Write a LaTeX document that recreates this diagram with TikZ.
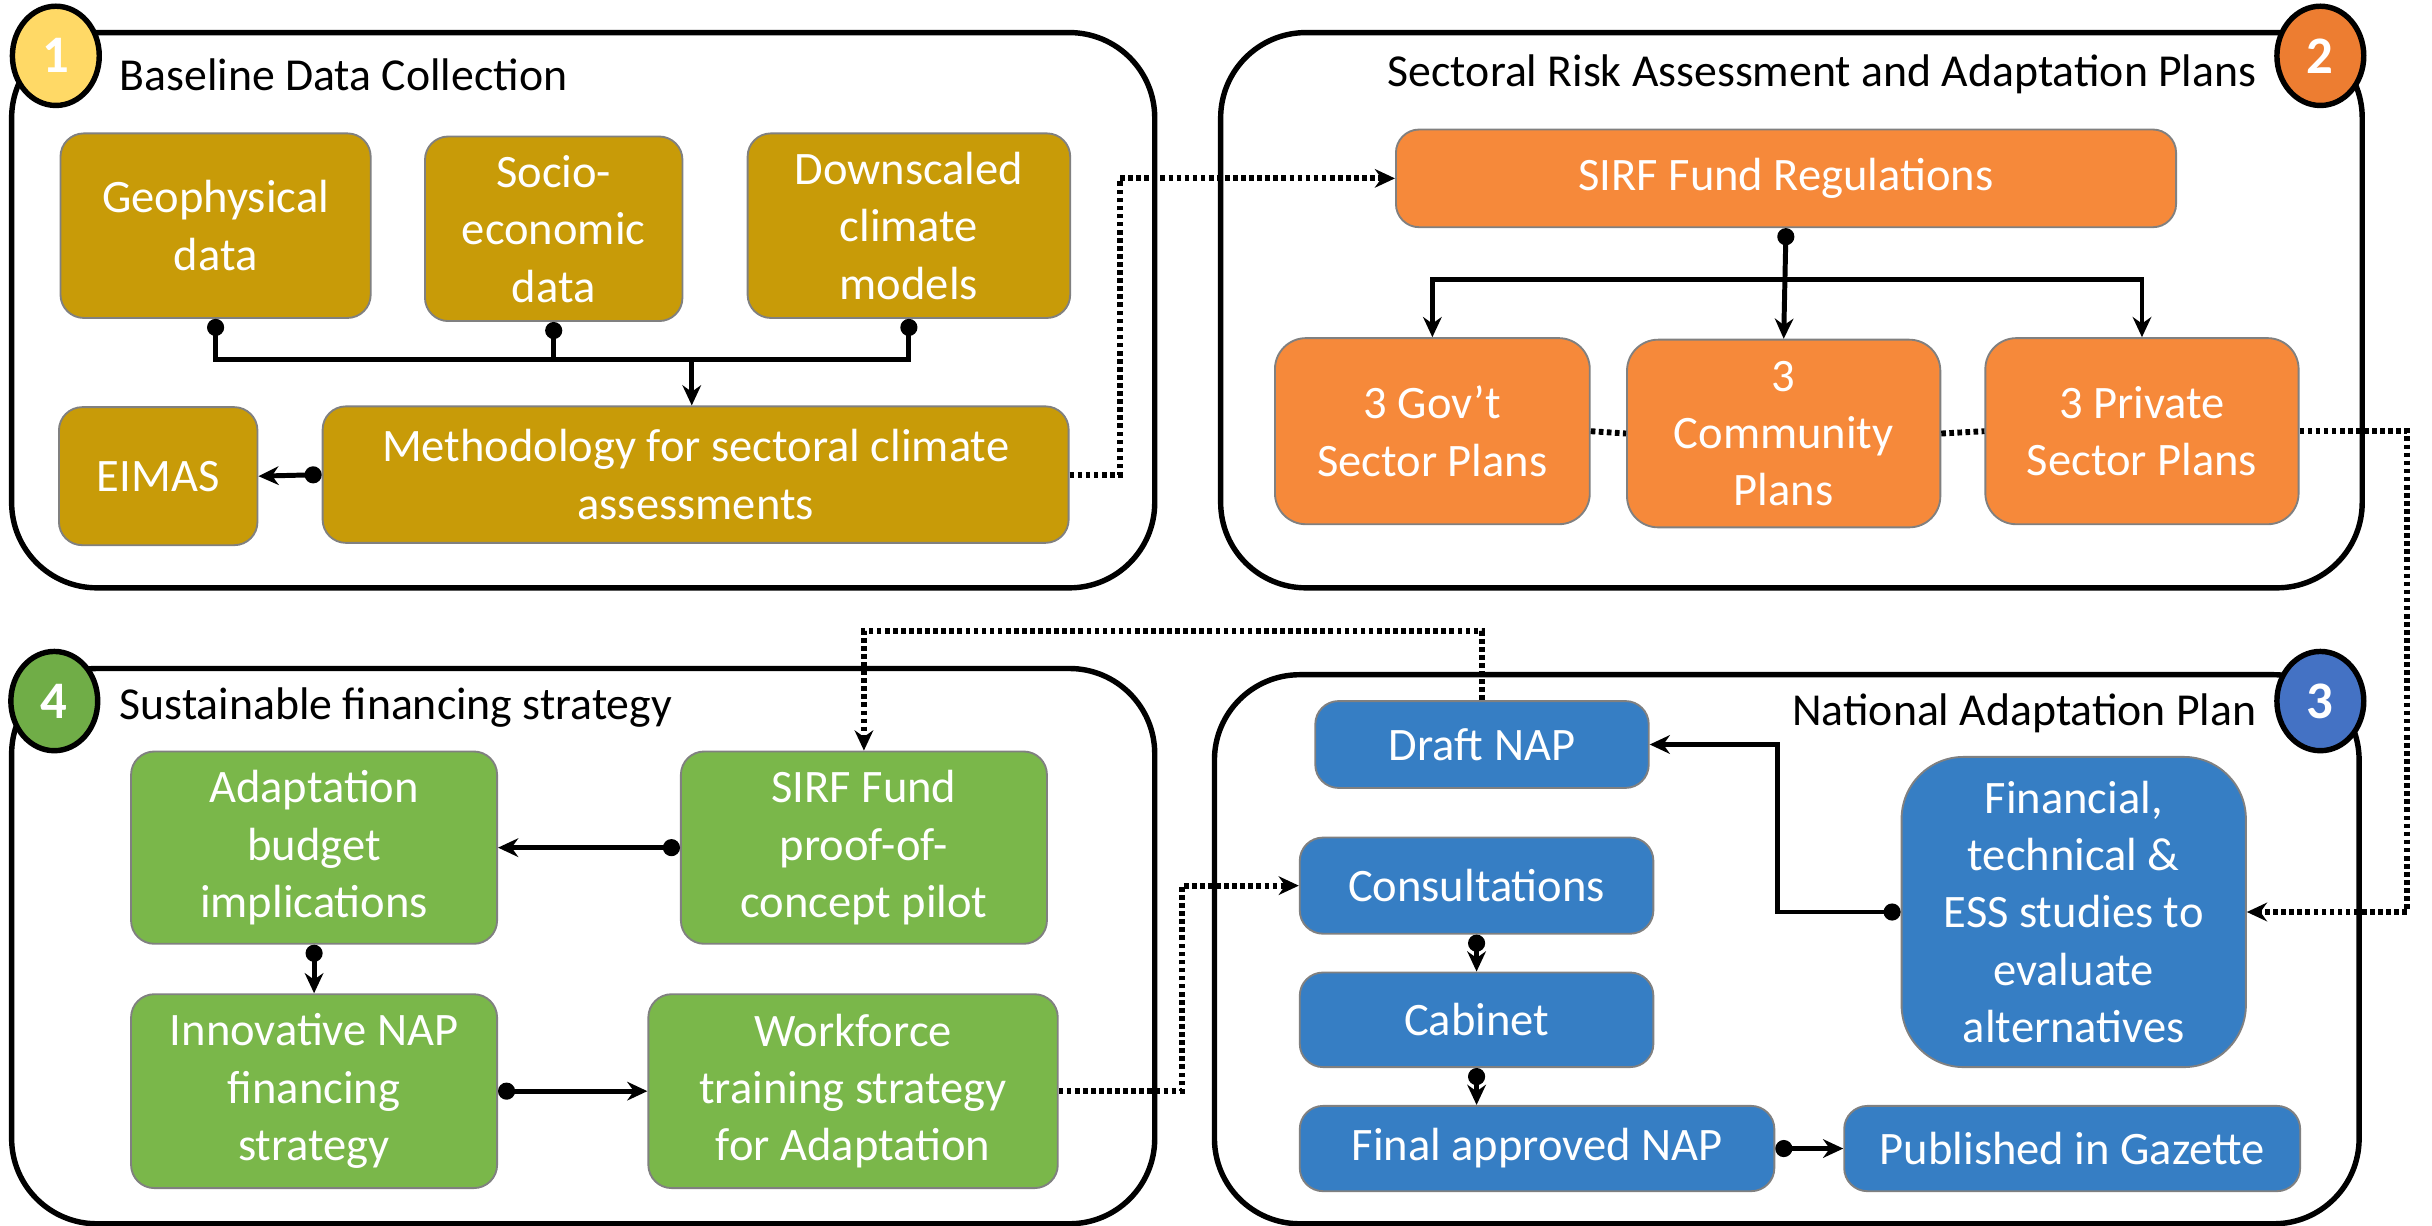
\documentclass[tikz,border=0pt]{standalone}
\usepackage{fontspec}
\setmainfont{Carlito}
\usetikzlibrary{arrows.meta,shapes.geometric}
\definecolor{goldbox}{RGB}{200,155,8}
\definecolor{orangebox}{RGB}{246,137,58}
\definecolor{greenbox}{RGB}{122,183,74}
\definecolor{bluebox}{RGB}{54,126,196}
\definecolor{c1fill}{RGB}{255,217,102}
\definecolor{c2fill}{RGB}{237,125,49}
\definecolor{c3fill}{RGB}{68,114,196}
\definecolor{c4fill}{RGB}{112,173,71}
\begin{document}
\begin{tikzpicture}[x=1pt,y=-1pt,
  panel/.style={draw=black, line width=3.5pt, rounded corners=55pt, inner sep=0pt},
  numc/.style={ellipse, draw=black, line width=3.5pt, minimum width=56pt, minimum height=64pt, inner sep=0pt, text=white, font=\fontsize{34}{34}\selectfont\bfseries},
  ttl/.style={font=\fontsize{29.5}{35}\selectfont, text=black, inner sep=0pt},
  box/.style={rectangle, rounded corners=15pt, draw=black!50, line width=1.2pt, text=white, align=center, inner sep=0pt, font=\fontsize{30}{37}\selectfont},
  gbox/.style={box, fill=goldbox},
  obox/.style={box, fill=orangebox},
  grbox/.style={box, fill=greenbox},
  bbox/.style={box, fill=bluebox},
  wire/.style={draw=black, line width=3.2pt},
  arr/.style={-{Stealth[length=13pt,width=12pt]}},
  dotarr/.style={{Circle[length=11pt,width=11pt]}-{Stealth[length=13pt,width=12pt]}},
  dotline/.style={draw=black, line width=3.8pt, dash pattern=on 3pt off 2.2pt}
]
\useasboundingbox (0,0) rectangle (1568,790);

% panels
\node[panel, minimum width=737pt, minimum height=358pt] (p1) at (376,200) {};
\node[panel, minimum width=736pt, minimum height=358pt] (p2) at (1155,200) {};
\node[panel, minimum width=737pt, minimum height=358pt] (p4) at (376,610) {};
\node[panel, minimum width=738pt, minimum height=354pt] (p3) at (1152,612) {};

% number badges
\node[numc, fill=c1fill] (n1) at (36,36) {1};
\node[numc, fill=c2fill] (n2) at (1496,36) {2};
\node[numc, fill=c4fill] (n4) at (35,452) {4};
\node[numc, fill=c3fill] (n3) at (1496,452) {3};

% titles
\node[ttl, anchor=west] (t1) at (77,48) {Baseline Data Collection};
\node[ttl, anchor=east] (t2) at (1455,48) {Sectoral Risk Assessment and Adaptation Plans};
\node[ttl, anchor=west] (t4) at (77,456) {Sustainable financing strategy};
\node[ttl, anchor=east] (t3) at (1455,460) {National Adaptation Plan};

% panel 1 boxes
\node[gbox, minimum width=200pt, minimum height=119pt] (geo) at (139,145.5) {Geophysical\\data};
\node[gbox, minimum width=166pt, minimum height=119pt] (soc) at (357,147.5) {Socio-\\economic\\data};
\node[gbox, minimum width=208pt, minimum height=119pt] (dsc) at (586,145.5) {Downscaled\\climate\\models};
\node[gbox, minimum width=128pt, minimum height=89pt] (eimas) at (102,307) {EIMAS};
\node[gbox, minimum width=481pt, minimum height=88pt] (meth) at (448.5,306) {Methodology for sectoral climate\\assessments};

% panel 2 boxes
\node[obox, minimum width=503pt, minimum height=63pt] (sirf) at (1151.5,115) {SIRF Fund Regulations};
\node[obox, rounded corners=20pt, minimum width=203pt, minimum height=120pt] (gov) at (923.5,278) {3 Gov’t\\Sector Plans};
\node[obox, rounded corners=20pt, minimum width=202pt, minimum height=121pt] (comm) at (1150,279.5) {3\\Community\\Plans};
\node[obox, rounded corners=20pt, minimum width=202pt, minimum height=120pt] (priv) at (1381,278) {3 Private\\Sector Plans};

% panel 3 boxes
\node[bbox, minimum width=215pt, minimum height=56pt] (draft) at (955.5,480) {Draft NAP};
\node[bbox, minimum width=228pt, minimum height=62pt] (cons) at (952,571) {Consultations};
\node[bbox, minimum width=228pt, minimum height=61pt] (cab) at (952,657.5) {Cabinet};
\node[bbox, minimum width=306pt, minimum height=55pt] (final) at (991,740.5) {Final approved NAP};
\node[bbox, minimum width=294pt, minimum height=55pt] (pub) at (1336,740.5) {Published in Gazette};
\node[bbox, rounded corners=40pt, minimum width=222pt, minimum height=200pt] (fin) at (1337,588) {Financial,\\technical \&\\ESS studies to\\evaluate\\alternatives};

% panel 4 boxes
\node[grbox, minimum width=236pt, minimum height=124pt] (budget) at (202.5,546.5) {Adaptation\\budget\\implications};
\node[grbox, minimum width=236pt, minimum height=124pt] (proof) at (557,546.5) {SIRF Fund\\proof-of-\\concept pilot};
\node[grbox, minimum width=236pt, minimum height=125pt] (innov) at (202.5,703.5) {Innovative NAP\\financing\\strategy};
\node[grbox, minimum width=264pt, minimum height=125pt] (work) at (550,703.5) {Workforce\\training strategy\\for Adaptation};

% helper coordinates
\coordinate (bus1) at (446,232);
\coordinate (bus2) at (1151,180);
\coordinate (lx) at (722,0);
\coordinate (rx) at (1552,0);
\coordinate (ty) at (0,407);
\coordinate (mx) at (762,0);
\coordinate (fx) at (1146,0);

% panel 1 connectors
\draw[wire, {Circle[length=11pt,width=11pt]}-] (geo.south) |- (bus1);
\draw[wire, {Circle[length=11pt,width=11pt]}-] (soc.south) |- (bus1);
\draw[wire, {Circle[length=11pt,width=11pt]}-] (dsc.south) |- (bus1);
\draw[wire, arr] (bus1) -- (meth.north -| bus1);
\draw[wire, dotarr] (meth.west) -- (eimas.east);
\draw[dotline, arr] (meth.east) -- (meth.east -| lx) |- (sirf.west);

% panel 2 connectors
\draw[wire, dotarr] (sirf.south) -- (comm.north);
\draw[wire, arr] (bus2) -| (gov.north);
\draw[wire, arr] (bus2) -| (priv.north);
\draw[dotline] (gov.east) -- (comm.west);
\draw[dotline] (comm.east) -- (priv.west);
\draw[dotline, arr] (priv.east) -- (priv.east -| rx) |- (fin.east);

% panel 3 connectors
\draw[wire, dotarr] (fin.west) -- (fin.west -| fx) |- (draft.east);
\draw[wire, dotarr] (cons.south) -- (cab.north);
\draw[wire, dotarr] (cab.south) -- (final.north -| cab.south);
\draw[wire, dotarr] (final.east) -- (pub.west);
\draw[dotline, arr] (draft.north) -- (draft.north |- ty) -| (proof.north);

% panel 4 connectors
\draw[wire, dotarr] (proof.west) -- (budget.east);
\draw[wire, dotarr] (budget.south) -- (innov.north);
\draw[wire, dotarr] (innov.east) -- (work.west);
\draw[dotline, arr] (work.east) -- (work.east -| mx) |- (cons.west);
\end{tikzpicture}
\end{document}
